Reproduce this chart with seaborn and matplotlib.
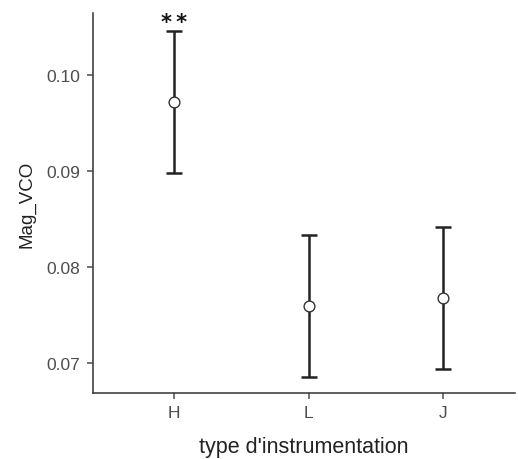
import matplotlib
matplotlib.use("Agg")
import matplotlib.pyplot as plt
import seaborn as sns
import pandas as pd

# values
groups = ["H", "L", "J"]
means = [0.0972, 0.0760, 0.0768]
errors = [0.0074, 0.0074, 0.0074]
signif = ["**", "", ""]

df = pd.DataFrame({"type": groups, "Mag_VCO": means, "err": errors})

sns.set_theme(style="ticks")
plt.rcParams["font.family"] = ["Liberation Sans", "DejaVu Sans"]

fig = plt.figure(figsize=(5.18, 4.6), dpi=100)
ax = fig.add_axes([0.179, 0.1435, 0.815, 0.826])

ax.errorbar(df["type"], df["Mag_VCO"], yerr=df["err"], fmt="none",
            ecolor="#222222", elinewidth=1.8, capsize=6, capthick=1.8, zorder=2)
sns.scatterplot(data=df, x="type", y="Mag_VCO", ax=ax, s=60, color="white",
                edgecolor="#333333", linewidth=1.0, zorder=3)

# significance stars above the error bar, with a thin gap between them
for i, lab in enumerate(signif):
    if lab:
        ax.text(i, means[i] + errors[i] + 0.0003, "\u2009".join(lab), ha="center",
                va="baseline", fontsize=15, fontweight="bold", color="#111111",
                family="DejaVu Sans")

ax.set_xlim(-0.6, 2.53)
ax.set_ylim(0.0669, 0.1065)
ax.set_yticks([0.07, 0.08, 0.09, 0.10])
ax.set_yticklabels(["0.07", "0.08", "0.09", "0.10"])

ax.set_xlabel("type d'instrumentation", fontsize=15.5, color="#222222", labelpad=11)
ax.set_ylabel("Mag_VCO", fontsize=13.5, color="#222222", labelpad=8)
ax.tick_params(axis="both", labelsize=12.5, colors="#4d4d4d", length=4, width=1.1, pad=5)
for side in ["left", "bottom"]:
    ax.spines[side].set_color("#333333")
    ax.spines[side].set_linewidth(1.1)
sns.despine(ax=ax)

fig.savefig("out.png", dpi=100)
